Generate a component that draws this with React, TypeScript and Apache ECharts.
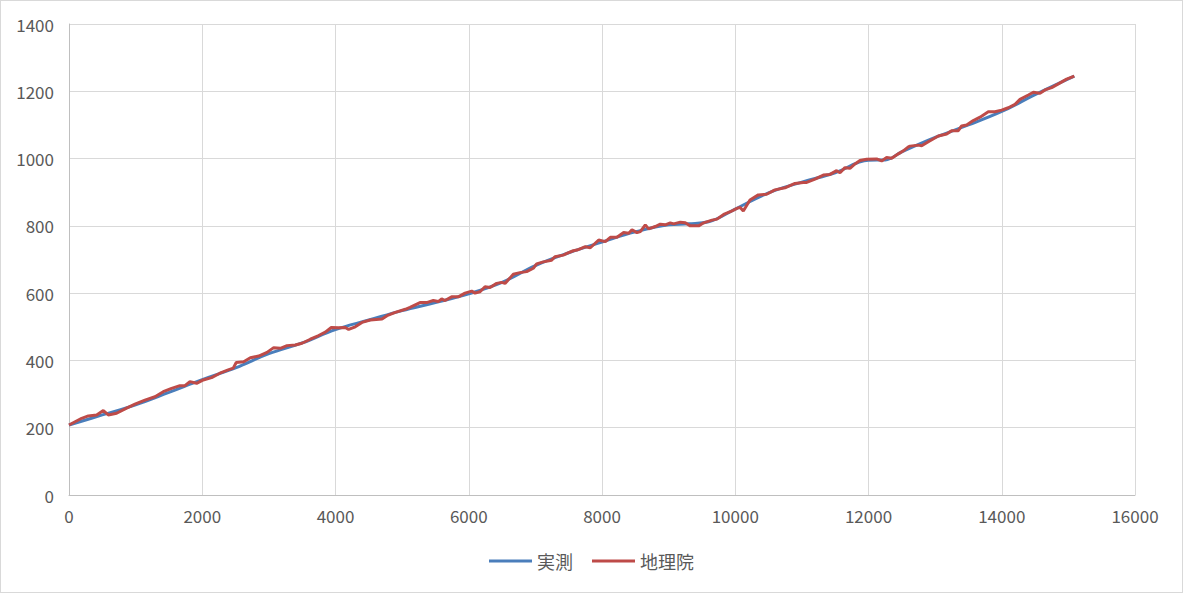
import { useEffect, useRef } from 'react'
import * as echarts from 'echarts'

const seriesNames = ['実測', '地理院']

// 地理院 (noisy profile)
const gsiDistance = [
  0, 190, 290, 415, 515, 590, 715, 865, 990, 1140, 1290, 1415, 1540, 1665, 1740, 1815, 1915, 2015, 2140, 2265,
  2390, 2465, 2510, 2622, 2722, 2847, 2972, 3072, 3172, 3272, 3397, 3497, 3622, 3747, 3847, 3937, 4047, 4147,
  4197, 4297, 4397, 4522, 4698, 4773, 4898, 5048, 5118, 5268, 5368, 5468, 5543, 5593, 5643, 5743, 5843, 5944,
  6044, 6094, 6169, 6244, 6319, 6419, 6494, 6544, 6669, 6769, 6869, 6969, 7019, 7119, 7244, 7294, 7419, 7474,
  7569, 7625, 7750, 7825, 7950, 8050, 8125, 8225, 8325, 8400, 8450, 8525, 8575, 8650, 8700, 8800, 8875, 8950,
  9025, 9075, 9175, 9250, 9325, 9451, 9526, 9651, 9726, 9826, 9926, 10026, 10071, 10121, 10221, 10346, 10471,
  10596, 10746, 10896, 11021, 11072, 11197, 11322, 11422, 11522, 11572, 11647, 11722, 11797, 11872, 11972,
  12122, 12197, 12272, 12348, 12448, 12523, 12598, 12623, 12748, 12798, 12898, 13048, 13173, 13248, 13348,
  13398, 13473, 13573, 13674, 13798, 13898, 13998, 14098, 14199, 14274, 14399, 14474, 14574, 14649, 14749,
  14849, 14974, 15089,
]
const gsiElevation = [
  208, 228, 235, 238, 251, 238, 243, 258, 270, 282, 292, 307, 317, 325, 325, 337, 332, 342, 349, 362,
  372, 377, 394, 396, 408, 413, 424, 438, 436, 444, 446, 451, 463, 474, 484, 498, 497, 498,
  492, 500, 513, 520, 523, 533, 543, 552, 558, 572, 572, 578, 575, 583, 578, 589, 589, 600,
  606, 600, 604, 619, 617, 629, 632, 629, 656, 661, 664, 674, 687, 693, 698, 708, 713, 718,
  726, 728, 738, 735, 758, 753, 766, 766, 780, 778, 788, 780, 783, 803, 791, 798, 805, 803,
  809, 806, 811, 809, 800, 800, 809, 817, 820, 834, 842, 852, 855, 844, 877, 892, 894,
  907, 913, 926, 929, 929, 939, 951, 953, 964, 958, 973, 971, 984, 994, 998,
  999, 993, 1003, 1001, 1014, 1023, 1035, 1037, 1040, 1038, 1050, 1067, 1073, 1083, 1083,
  1097, 1100, 1113, 1123, 1139, 1139, 1144, 1151, 1161, 1176, 1189, 1197, 1194, 1204, 1211,
  1222, 1236, 1245,
]

// 実測 (smooth profile)
const measuredDistance = [
  0, 500, 1000, 1500, 2000, 2500, 3000, 3500, 4000, 4500, 5000, 5500, 6000, 6500, 7000, 7500, 8000, 8500,
  9000, 9300, 9600, 10000, 10500, 11000, 11500, 12000, 12250, 12500, 13000, 13500, 14000, 14500, 15089,
]
const measuredElevation = [
  208, 238, 268, 305, 343, 378, 420, 452, 492, 520, 548, 572, 598, 632, 682, 720, 752, 782,
  803, 806, 812, 850, 898, 930, 958, 995, 996, 1020, 1063, 1100, 1140, 1190, 1245,
]

const axisFont = 'Noto Sans CJK JP'

export default function App() {
  const ref = useRef<HTMLDivElement | null>(null)

  useEffect(() => {
    if (!ref.current) return
    const chart = echarts.init(ref.current, undefined, { renderer: 'svg' })

    chart.setOption({
      animation: false,
      backgroundColor: '#ffffff',
      textStyle: { fontFamily: axisFont },
      grid: { left: 68, right: 47, top: 23, bottom: 97 },
      legend: {
        top: 546,
        left: 'center',
        icon: 'rect',
        itemWidth: 43,
        itemHeight: 3,
        itemGap: 19,
        textStyle: { color: '#595959', fontSize: 18, fontFamily: axisFont },
        data: seriesNames,
      },
      xAxis: {
        type: 'value',
        min: 0,
        max: 16000,
        interval: 2000,
        axisLine: { show: true, lineStyle: { color: '#bfbfbf', width: 1 } },
        axisTick: { show: false },
        axisLabel: { color: '#595959', fontSize: 17, margin: 12, formatter: (v: number) => String(v) },
        splitLine: { show: true, lineStyle: { color: '#d9d9d9', width: 1 } },
      },
      yAxis: {
        type: 'value',
        min: 0,
        max: 1400,
        interval: 200,
        axisLine: { show: true, lineStyle: { color: '#bfbfbf', width: 1 } },
        axisTick: { show: false },
        axisLabel: { color: '#595959', fontSize: 17, margin: 15, formatter: (v: number) => String(v) },
        splitLine: { show: true, lineStyle: { color: '#d9d9d9', width: 1 } },
      },
      series: [
        {
          name: seriesNames[0],
          type: 'line',
          data: measuredDistance.map((d, i) => [d, measuredElevation[i]]),
          smooth: 0.4,
          showSymbol: false,
          symbol: 'none',
          lineStyle: { color: '#4a7ebb', width: 3 },
          itemStyle: { color: '#4a7ebb' },
        },
        {
          name: seriesNames[1],
          type: 'line',
          data: gsiDistance.map((d, i) => [d, gsiElevation[i]]),
          showSymbol: false,
          symbol: 'none',
          lineStyle: { color: '#be4b48', width: 3 },
          itemStyle: { color: '#be4b48' },
        },
      ],
    })

    return () => chart.dispose()
  }, [])

  return (
    <div
      style={{
        position: 'fixed',
        left: 0,
        top: 0,
        width: 1183,
        height: 593,
        boxSizing: 'border-box',
        border: '1px solid #d9d9d9',
        background: '#ffffff',
      }}
    >
      <div ref={ref} style={{ width: 1181, height: 591 }} />
    </div>
  )
}
